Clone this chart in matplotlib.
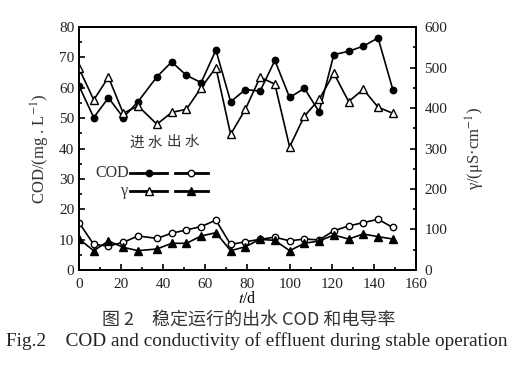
import matplotlib
matplotlib.use("Agg")
import matplotlib.pyplot as plt
from matplotlib.ticker import MultipleLocator
from matplotlib.lines import Line2D

plt.rcParams['font.family'] = ['Liberation Serif', 'DejaVu Serif']
plt.rcParams['mathtext.fontset'] = 'stix'

# days of operation
days = [0, 7, 14, 21, 28, 37, 44, 51, 58, 65, 72, 79, 86, 93,
        100, 107, 114, 121, 128, 135, 142, 149]

# influent / effluent COD (mg/L)
cod_in = [60.6, 50.2, 56.7, 50.2, 55.4, 63.6, 68.5, 64.1, 61.7, 72.4, 55.4,
          59.4, 58.9, 69.0, 56.8, 59.8, 52.1, 70.9, 72.0, 73.7, 76.4, 59.4]
cod_out = [15.6, 8.4, 7.9, 9.1, 11.2, 10.4, 12.1, 13.2, 14.3, 16.4, 8.4,
           9.3, 10.1, 10.8, 9.6, 10.2, 9.9, 12.9, 14.5, 15.6, 16.7, 14.0]

# influent / effluent conductivity (uS/cm)
gam_in = [498, 420, 476, 387, 405, 360, 389, 397, 450, 500, 335,
          397, 476, 459, 304, 380, 421, 486, 416, 446, 402, 387]
gam_out = [76.5, 47.7, 71.6, 56, 47.7, 51.9, 65.9, 65.9, 84, 92.1, 47.7,
           57.5, 75.8, 73, 47.7, 65.9, 71.6, 86.4, 76.5, 88.9, 82.3, 76.5]

fig = plt.figure(figsize=(5.14, 3.82), dpi=100)
ax = fig.add_axes([0.1537, 0.2932, 0.6556, 0.6361])
ax2 = ax.twinx()

lw = 1.2
ms = 4.6
ax.plot(days, cod_in, '-o', color='black', lw=lw, ms=ms, mfc='black')
ax.plot(days, cod_out, '-o', color='black', lw=lw, ms=ms, mfc='white')
ax2.plot(days, gam_in, '-^', color='black', lw=lw, ms=ms + 0.6, mfc='white')
ax2.plot(days, gam_out, '-^', color='black', lw=lw, ms=ms + 0.6, mfc='black')

ax.set_xlim(0, 160)
ax.set_ylim(0, 80)
ax2.set_ylim(0, 600)

ax.xaxis.set_major_locator(MultipleLocator(20))
ax.xaxis.set_minor_locator(MultipleLocator(10))
ax.yaxis.set_major_locator(MultipleLocator(10))
ax.yaxis.set_minor_locator(MultipleLocator(5))
ax2.yaxis.set_major_locator(MultipleLocator(100))
ax2.yaxis.set_minor_locator(MultipleLocator(50))

for a in (ax, ax2):
    a.tick_params(which='both', direction='in', labelsize=11, color='black',
                  labelcolor='#222222')
    a.tick_params(which='major', length=4, width=1.2)
    a.tick_params(which='minor', length=2.5, width=1.2)
    a.tick_params(axis='x', top=False, which='both')
    for s in a.spines.values():
        s.set_linewidth(1.3)
ax.tick_params(axis='x', pad=6)
ax2.tick_params(axis='y', pad=6)
# lift the right-hand "0" a bit so it clears the "160"
ax2.get_yticklabels()[0].set_va('bottom')

ax.set_ylabel('COD/(mg . L$^{-1}$)', fontsize=12, color='#333333', labelpad=5)
ax2.set_ylabel('γ/(μS·cm$^{-1}$)', fontsize=12, color='#333333', labelpad=12)
ax.set_xlabel('$t$/d', fontsize=11.5, labelpad=0)

# legend drawn by hand: header row + two rows with inlet / outlet samples
ax.text(0.20, 0.525, '进 水', transform=ax.transAxes, fontsize=10.5,
        family=['Noto Sans CJK SC'], ha='center', va='center', color='#333333')
ax.text(0.31, 0.525, '出 水', transform=ax.transAxes, fontsize=10.5,
        family=['Noto Sans CJK SC'], ha='center', va='center', color='#333333')
ax.text(0.148, 0.40, 'COD', transform=ax.transAxes, fontsize=11.5,
        ha='right', va='center', color='#333333')
ax.text(0.145, 0.325, 'γ', transform=ax.transAxes, fontsize=11.5,
        ha='right', va='center', color='#333333')
rows = [(0.40, 'o', 'black', 'white', ms), (0.325, '^', 'white', 'black', ms + 0.6)]
for y, m, f1, f2, s in rows:
    ax.add_line(Line2D([0.152, 0.262], [y, y], transform=ax.transAxes,
                       color='black', lw=2))
    ax.add_line(Line2D([0.207], [y], transform=ax.transAxes, marker=m,
                       ms=s, mfc=f1, mec='black', ls='none'))
    ax.add_line(Line2D([0.285, 0.382], [y, y], transform=ax.transAxes,
                       color='black', lw=2))
    ax.add_line(Line2D([0.333], [y], transform=ax.transAxes, marker=m,
                       ms=s, mfc=f2, mec='black', ls='none'))

fig.text(0.483, 0.162, '图 2　稳定运行的出水 COD 和电导率', fontsize=13,
         family=['Noto Sans CJK SC', 'Liberation Serif'], ha='center',
         va='center', color='#333333')
fig.text(0.5, 0.108, 'Fig.2    COD and conductivity of effluent during stable operation',
         fontsize=13.9, ha='center', va='center', color='#222222')

fig.savefig('out.png', dpi=100)
